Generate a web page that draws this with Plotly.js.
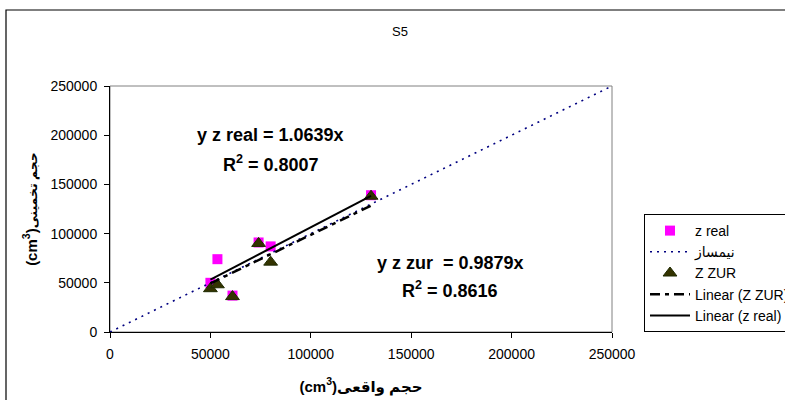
<!DOCTYPE html>
<html>
<head>
<meta charset="utf-8">
<script src="https://cdn.plot.ly/plotly-3.0.1.min.js"></script>
<style>
  html, body { margin: 0; padding: 0; background: #ffffff; }
  #chart { width: 785px; height: 400px; }
</style>
</head>
<body>
<div id="chart"></div>
<script>
// ---- data ----
const realVolume = [50000, 53500, 61000, 74000, 80000, 130000];   // حجم واقعی
const zReal      = [50000, 74000, 37000, 91000, 87000, 139000];   // z real
const zZur       = [44000, 48000, 36000, 90000, 71000, 138000];   // Z ZUR
const bisectorX  = [0, 250000];
const bisectorY  = [0, 250000];
const slopeReal  = 1.0639;   // y z real = 1.0639x
const slopeZur   = 0.9879;   // y z zur = 0.9879x
const r2Real     = 0.8007;
const r2Zur      = 0.8616;
const xTicks     = [0, 50000, 100000, 150000, 200000, 250000];
const yTicks     = [0, 50000, 100000, 150000, 200000, 250000];

const FONT = "Arial, 'Liberation Sans', 'DejaVu Sans', sans-serif";

const xMin = Math.min(...realVolume), xMax = Math.max(...realVolume);
const trendX = [xMin, xMax];

const traces = [
  {
    name: 'z real', x: realVolume, y: zReal, type: 'scatter', mode: 'markers',
    marker: { symbol: 'square', size: 10, color: '#FF00FF', line: { width: 0 } }
  },
  {
    name: 'نیمساز', x: bisectorX, y: bisectorY, type: 'scatter', mode: 'lines',
    line: { color: '#000080', width: 1.6, dash: '2px,5px' }
  },
  {
    name: 'Z ZUR', x: realVolume, y: zZur, type: 'scatter', mode: 'markers',
    marker: { symbol: 'triangle-up', size: 12, color: '#333300', line: { width: 1, color: '#1e2a00' } }
  },
  {
    name: 'Linear (Z ZUR)', x: trendX, y: trendX.map(v => v * slopeZur), type: 'scatter', mode: 'lines',
    line: { color: '#000000', width: 2.5, dash: '10px,5px,4px,5px' }
  },
  {
    name: 'Linear (z real)', x: trendX, y: trendX.map(v => v * slopeReal), type: 'scatter', mode: 'lines',
    line: { color: '#000000', width: 2 }
  }
];

const layout = {
  width: 785, height: 400,
  margin: { l: 110, r: 173, t: 86, b: 68, autoexpand: false },
  paper_bgcolor: '#ffffff', plot_bgcolor: '#ffffff',
  font: { family: FONT, color: '#000000', size: 13 },
  title: {
    text: 'S5', font: { family: FONT, size: 13, color: '#000000' },
    xref: 'container', x: 400 / 785, xanchor: 'center',
    yref: 'container', y: 1 - 31 / 400, yanchor: 'middle'
  },
  showlegend: true,
  legend: {
    x: (644 - 110) / 502, xanchor: 'left', y: (332 - 214) / 246, yanchor: 'top',
    bgcolor: '#ffffff', bordercolor: '#000000', borderwidth: 1,
    font: { family: FONT, size: 14, color: '#000000' },
    itemwidth: 40, tracegroupgap: 0
  },
  xaxis: {
    range: [0, 250000], tickvals: xTicks, ticktext: xTicks.map(String),
    showgrid: false, zeroline: false, showline: true, linecolor: '#000000', linewidth: 1,
    ticks: 'outside', ticklen: 5, tickcolor: '#000000', ticklabelstandoff: 4,
    tickfont: { family: FONT, size: 14, color: '#000000' },
    title: { text: '(cm<sup>3</sup>)حجم واقعی', font: { family: FONT, size: 15, color: '#000000', weight: 'bold' }, standoff: 20 },
    automargin: false, fixedrange: true
  },
  yaxis: {
    range: [0, 250000], tickvals: yTicks, ticktext: yTicks.map(String),
    showgrid: false, zeroline: false, showline: true, linecolor: '#000000', linewidth: 1,
    ticks: 'outside', ticklen: 5, tickcolor: '#000000', ticklabelstandoff: 4,
    tickfont: { family: FONT, size: 14, color: '#000000' },
    title: { text: '(cm<sup>3</sup>)<span style="font-size:12.5px">حجم تخمینی</span>', font: { family: FONT, size: 15, color: '#000000', weight: 'bold' }, standoff: 9 },
    automargin: false, fixedrange: true
  },
  shapes: [
    // gray plot-area border
    { type: 'rect', xref: 'paper', yref: 'paper', x0: 0, x1: 1, y0: 0, y1: 1,
      line: { color: '#808080', width: 1 }, fillcolor: 'rgba(0,0,0,0)', layer: 'below' },
    // outer chart border
    { type: 'rect', xref: 'paper', yref: 'paper', x0: (6 - 110) / 502, x1: 2, y0: -1, y1: (332 - 10) / 246,
      line: { color: '#000000', width: 1.2 }, fillcolor: 'rgba(0,0,0,0)' }
  ],
  annotations: [
    { x: 80000, y: 200000, xref: 'x', yref: 'y', showarrow: false,
      text: 'y z real = ' + slopeReal.toFixed(4) + 'x',
      font: { family: FONT, size: 18, color: '#000000', weight: 'bold' } },
    { x: 80000, y: 171700, xref: 'x', yref: 'y', showarrow: false,
      text: 'R<sup>2</sup> = ' + r2Real.toFixed(4),
      font: { family: FONT, size: 18, color: '#000000', weight: 'bold' } },
    { x: 169800, y: 70100, xref: 'x', yref: 'y', showarrow: false,
      text: 'y z zur\u00A0 = ' + slopeZur.toFixed(4) + 'x',
      font: { family: FONT, size: 18, color: '#000000', weight: 'bold' } },
    { x: 169300, y: 42700, xref: 'x', yref: 'y', showarrow: false,
      text: 'R<sup>2</sup> = ' + r2Zur.toFixed(4),
      font: { family: FONT, size: 18, color: '#000000', weight: 'bold' } }
  ]
};

Plotly.newPlot('chart', traces, layout, { staticPlot: true, displayModeBar: false });
</script>
</body>
</html>
